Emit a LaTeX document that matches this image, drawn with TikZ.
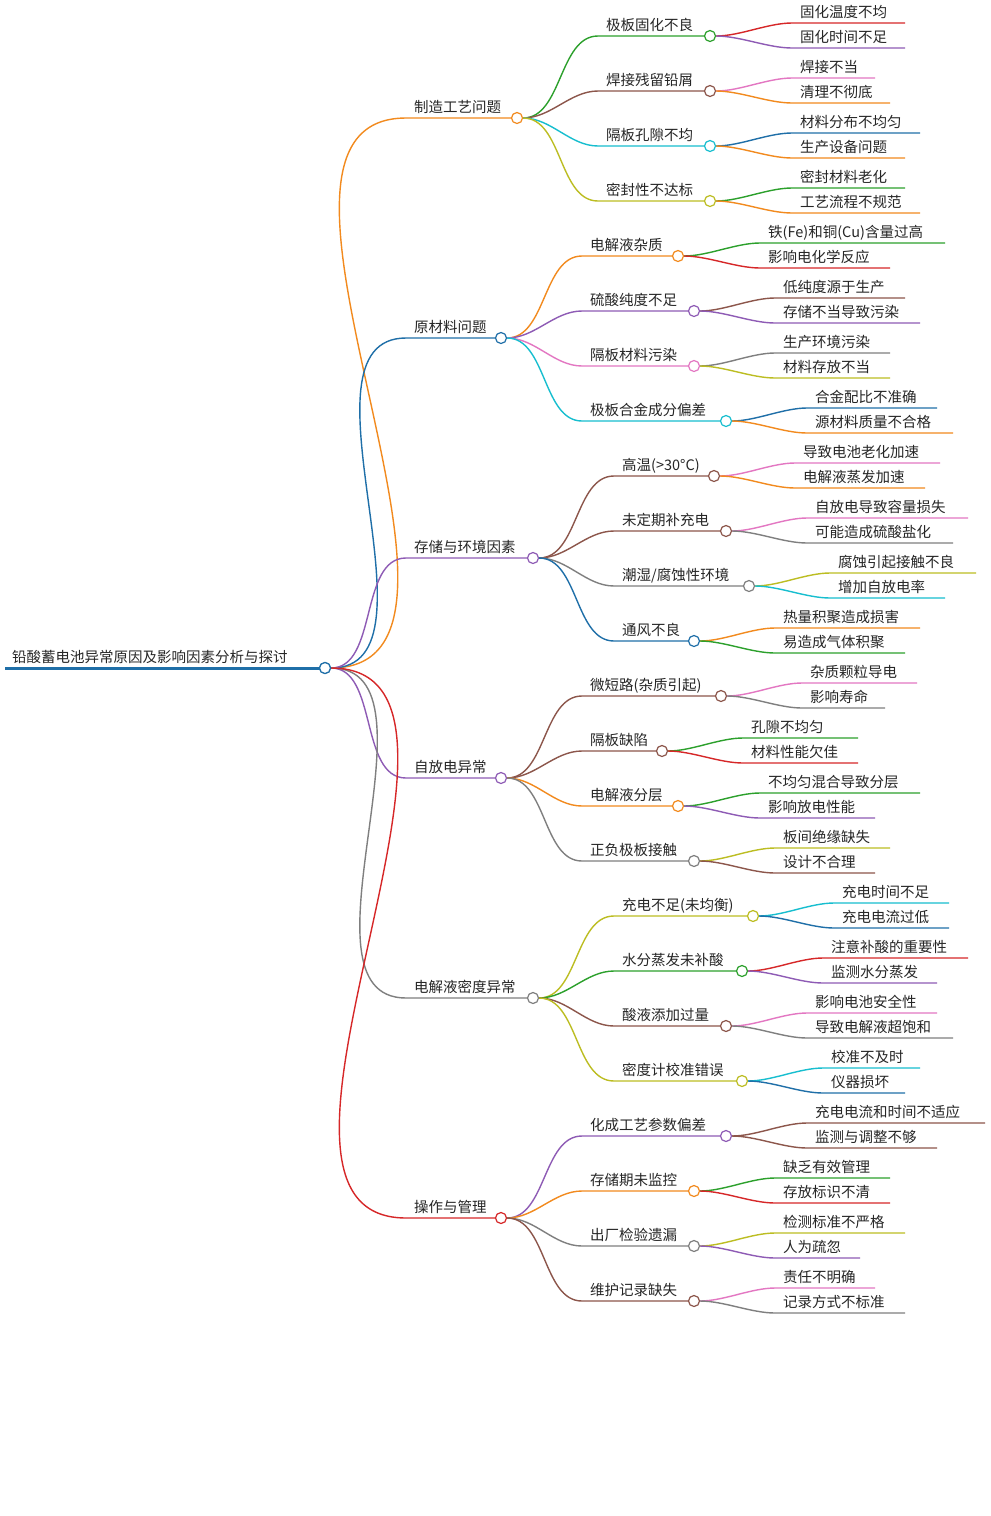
\documentclass[tikz,border=0pt]{standalone}
\usepackage{fontspec}
\setmainfont{Noto Sans CJK SC}
\definecolor{cO}{HTML}{F28A1E}
\definecolor{cB}{HTML}{1F6FA8}
\definecolor{cP}{HTML}{8E5BB5}
\definecolor{cG}{HTML}{7F7F7F}
\definecolor{cR}{HTML}{D62728}
\definecolor{cN}{HTML}{2CA02C}
\definecolor{cW}{HTML}{8C564B}
\definecolor{cC}{HTML}{17BECF}
\definecolor{cY}{HTML}{BCBD22}
\definecolor{cK}{HTML}{E377C2}
\tikzset{
 dot/.style={circle,draw=#1,fill=white,line width=1.2,inner sep=0,minimum size=11},
 lbl/.style={anchor=base west,inner sep=0,font=\fontsize{14.5}{15}\selectfont,text=black!85},
 conn/.style={#1,line width=1.4}
}
% name, parent, xstart, y, xcircle, color, text
\newcommand\mmbranch[7]{%
 \coordinate (#1s) at (#3,#4);
 \draw[conn=#6] (#2.east) to[out=0,in=180,looseness=0.9] (#1s) -- (#5,#4);
 \node[lbl] (#1t) at (#3+8,#4-6) {#7};
 \node[dot=#6] (#1) at (#5,#4) {};}
% name, parent, xstart(text), y, xend, color, text
\newcommand\mmleaf[7]{%
 \coordinate (#1s) at (#3-8,#4);
 \coordinate (#1e) at (#5,#4);
 \draw[conn=#6] (#2.east) to[out=0,in=180,looseness=0.8] (#1s) -- (#1e);
 \node[lbl] (#1t) at (#3,#4-6) {#7};}
\begin{document}
\begin{tikzpicture}[x=1pt,y=-1pt]
\useasboundingbox[fill=white] (0,0) rectangle (991,1516);
\coordinate (r0) at (5,668);
\draw[cB,line width=3] (r0) -- (325,668);
\node[lbl] (rt) at (12,662) {铅酸蓄电池异常原因及影响因素分析与探讨};
\node[dot=cB] (r) at (325,668) {};
% Branch 1
\mmbranch{a}{r}{406}{118}{517}{cO}{制造工艺问题}
\mmbranch{a1}{a}{598}{36}{710}{cN}{极板固化不良}
\mmleaf{a11}{a1}{800}{23}{905}{cR}{固化温度不均}
\mmleaf{a12}{a1}{800}{48}{905}{cP}{固化时间不足}
\mmbranch{a2}{a}{598}{91}{710}{cW}{焊接残留铅屑}
\mmleaf{a21}{a2}{800}{78}{875}{cK}{焊接不当}
\mmleaf{a22}{a2}{800}{103}{890}{cO}{清理不彻底}
\mmbranch{a3}{a}{598}{146}{710}{cC}{隔板孔隙不均}
\mmleaf{a31}{a3}{800}{133}{920}{cB}{材料分布不均匀}
\mmleaf{a32}{a3}{800}{158}{905}{cO}{生产设备问题}
\mmbranch{a4}{a}{598}{201}{710}{cY}{密封性不达标}
\mmleaf{a41}{a4}{800}{188}{905}{cN}{密封材料老化}
\mmleaf{a42}{a4}{800}{213}{920}{cO}{工艺流程不规范}
% Branch 2
\mmbranch{b}{r}{406}{338}{501}{cB}{原材料问题}
\mmbranch{b1}{b}{582}{256}{678}{cO}{电解液杂质}
\mmleaf{b11}{b1}{768}{243}{945}{cN}{铁(Fe)和铜(Cu)含量过高}
\mmleaf{b12}{b1}{768}{268}{890}{cR}{影响电化学反应}
\mmbranch{b2}{b}{582}{311}{694}{cP}{硫酸纯度不足}
\mmleaf{b21}{b2}{783}{298}{905}{cW}{低纯度源于生产}
\mmleaf{b22}{b2}{783}{323}{920}{cP}{存储不当导致污染}
\mmbranch{b3}{b}{582}{366}{694}{cK}{隔板材料污染}
\mmleaf{b31}{b3}{783}{353}{890}{cG}{生产环境污染}
\mmleaf{b32}{b3}{783}{378}{890}{cY}{材料存放不当}
\mmbranch{b4}{b}{582}{421}{726}{cC}{极板合金成分偏差}
\mmleaf{b41}{b4}{815}{408}{937}{cB}{合金配比不准确}
\mmleaf{b42}{b4}{815}{433}{953}{cO}{源材料质量不合格}
% Branch 3
\mmbranch{c}{r}{406}{558}{533}{cP}{存储与环境因素}
\mmbranch{c1}{c}{614}{476}{714}{cW}{高温(>30°C)}
\mmleaf{c11}{c1}{803}{463}{940}{cK}{导致电池老化加速}
\mmleaf{c12}{c1}{803}{488}{925}{cO}{电解液蒸发加速}
\mmbranch{c2}{c}{614}{531}{726}{cW}{未定期补充电}
\mmleaf{c21}{c2}{815}{518}{968}{cK}{自放电导致容量损失}
\mmleaf{c22}{c2}{815}{543}{953}{cG}{可能造成硫酸盐化}
\mmbranch{c3}{c}{614}{586}{749}{cG}{潮湿/腐蚀性环境}
\mmleaf{c31}{c3}{838}{573}{976}{cY}{腐蚀引起接触不良}
\mmleaf{c32}{c3}{838}{598}{945}{cC}{增加自放电率}
\mmbranch{c4}{c}{614}{641}{694}{cB}{通风不良}
\mmleaf{c41}{c4}{783}{628}{920}{cO}{热量积聚造成损害}
\mmleaf{c42}{c4}{783}{653}{905}{cN}{易造成气体积聚}
% Branch 4
\mmbranch{d}{r}{406}{778}{501}{cP}{自放电异常}
\mmbranch{d1}{d}{582}{696}{721}{cW}{微短路(杂质引起)}
\mmleaf{d11}{d1}{810}{683}{917}{cK}{杂质颗粒导电}
\mmleaf{d12}{d1}{810}{708}{885}{cG}{影响寿命}
\mmbranch{d2}{d}{582}{751}{662}{cW}{隔板缺陷}
\mmleaf{d21}{d2}{751}{738}{858}{cN}{孔隙不均匀}
\mmleaf{d22}{d2}{751}{763}{858}{cR}{材料性能欠佳}
\mmbranch{d3}{d}{582}{806}{678}{cO}{电解液分层}
\mmleaf{d31}{d3}{768}{793}{920}{cN}{不均匀混合导致分层}
\mmleaf{d32}{d3}{768}{818}{875}{cP}{影响放电性能}
\mmbranch{d4}{d}{582}{861}{694}{cG}{正负极板接触}
\mmleaf{d41}{d4}{783}{848}{890}{cY}{板间绝缘缺失}
\mmleaf{d42}{d4}{783}{873}{875}{cW}{设计不合理}
% Branch 5
\mmbranch{e}{r}{406}{998}{533}{cG}{电解液密度异常}
\mmbranch{e1}{e}{614}{916}{753}{cY}{充电不足(未均衡)}
\mmleaf{e11}{e1}{842}{903}{949}{cC}{充电时间不足}
\mmleaf{e12}{e1}{842}{928}{949}{cB}{充电电流过低}
\mmbranch{e2}{e}{614}{971}{742}{cN}{水分蒸发未补酸}
\mmleaf{e21}{e2}{831}{958}{968}{cR}{注意补酸的重要性}
\mmleaf{e22}{e2}{831}{983}{937}{cP}{监测水分蒸发}
\mmbranch{e3}{e}{614}{1026}{726}{cW}{酸液添加过量}
\mmleaf{e31}{e3}{815}{1013}{937}{cK}{影响电池安全性}
\mmleaf{e32}{e3}{815}{1038}{953}{cG}{导致电解液超饱和}
\mmbranch{e4}{e}{614}{1081}{742}{cY}{密度计校准错误}
\mmleaf{e41}{e4}{831}{1068}{920}{cC}{校准不及时}
\mmleaf{e42}{e4}{831}{1093}{905}{cB}{仪器损坏}
% Branch 6
\mmbranch{f}{r}{406}{1218}{501}{cR}{操作与管理}
\mmbranch{f1}{f}{582}{1136}{726}{cP}{化成工艺参数偏差}
\mmleaf{f11}{f1}{815}{1123}{985}{cW}{充电电流和时间不适应}
\mmleaf{f12}{f1}{815}{1148}{937}{cW}{监测与调整不够}
\mmbranch{f2}{f}{582}{1191}{694}{cO}{存储期未监控}
\mmleaf{f21}{f2}{783}{1178}{890}{cN}{缺乏有效管理}
\mmleaf{f22}{f2}{783}{1203}{890}{cR}{存放标识不清}
\mmbranch{f3}{f}{582}{1246}{694}{cG}{出厂检验遗漏}
\mmleaf{f31}{f3}{783}{1233}{905}{cY}{检测标准不严格}
\mmleaf{f32}{f3}{783}{1258}{860}{cP}{人为疏忽}
\mmbranch{f4}{f}{582}{1301}{694}{cW}{维护记录缺失}
\mmleaf{f41}{f4}{783}{1288}{875}{cK}{责任不明确}
\mmleaf{f42}{f4}{783}{1313}{905}{cG}{记录方式不标准}
\node[dot=cB] at (r) {};
\end{tikzpicture}
\end{document}
